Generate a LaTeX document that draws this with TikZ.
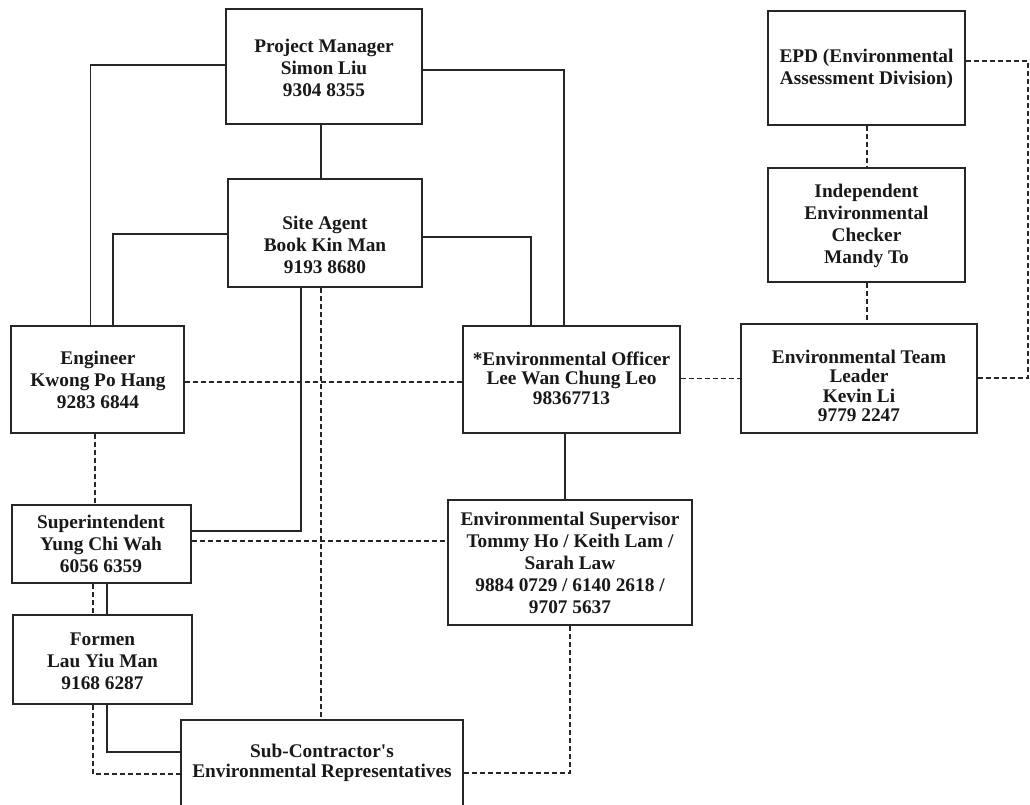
\documentclass[tikz,border=0pt]{standalone}
\usepackage{fontspec}
\setmainfont{Liberation Serif}[Ligatures=TeXOff]
\begin{document}
\begin{tikzpicture}[x=1pt,y=-1pt,
  box/.style={draw=black!85, line width=1.4pt, inner sep=0pt},
  lbl/.style={font=\bfseries\fontsize{19.3}{22}\selectfont, align=center, inner sep=0pt, text=black!90},
  lbltight/.style={lbl, font=\bfseries\fontsize{19.3}{19.5}\selectfont},
  lblsub/.style={lbl, font=\bfseries\fontsize{19.3}{20}\selectfont},
  conn/.style={line width=1.2pt, draw=black!85},
  dconn/.style={conn, dash pattern=on 5pt off 3pt}]
\useasboundingbox (0,0) rectangle (1030,805);
\clip (0,0) rectangle (1030,805);
\fill[white] (0,0) rectangle (1030,805);

% boxes
\node[box, minimum width=196pt, minimum height=115pt] (pm) at (324,66.5) {};
\node[box, minimum width=194pt, minimum height=108pt] (sa) at (325,233) {};
\node[box, minimum width=173pt, minimum height=107pt] (eng) at (97.5,379.5) {};
\node[box, minimum width=217pt, minimum height=107pt] (eo) at (571.5,379.5) {};
\node[box, minimum width=236pt, minimum height=109pt] (etl) at (859,378.5) {};
\node[box, minimum width=197pt, minimum height=114pt] (epd) at (866.5,68) {};
\node[box, minimum width=197pt, minimum height=114pt] (iec) at (866.5,225) {};
\node[box, minimum width=179pt, minimum height=78pt] (sup) at (101.5,544) {};
\node[box, minimum width=244pt, minimum height=125pt] (es) at (570,562.5) {};
\node[box, minimum width=179pt, minimum height=89pt] (formen) at (102.5,659.5) {};
\node[box, minimum width=282pt, minimum height=100pt] (sub) at (322,770) {};

% texts
\node[lbl] (pmt) at (324,68) {Project Manager\\Simon Liu\\9304 8355};
\node[lbl] (sat) at (325,245) {Site Agent\\Book Kin Man\\9193 8680};
\node[lbl] (engt) at (98,380) {Engineer\\Kwong Po Hang\\9283 6844};
\node[lbl] (supt) at (101,544) {Superintendent\\Yung Chi Wah\\6056 6359};
\node[lbl] (formt) at (102.5,661) {Formen\\Lau Yiu Man\\9168 6287};
\node[lbltight] (eot) at (571.5,378) {*Environmental Officer\\Lee Wan Chung Leo\\98367713};
\node[lbl] (est) at (570,563) {Environmental Supervisor\\Tommy Ho / Keith Lam /\\Sarah Law\\9884 0729 / 6140 2618 /\\9707 5637};
\node[lbltight] (etlt) at (859,386) {Environmental Team\\Leader\\Kevin Li\\9779 2247};
\node[lbl] (epdt) at (866.5,69) {EPD (Environmental\\Assessment Division)};
\node[lbl] (iect) at (866.5,226) {Independent\\Environmental\\Checker\\Mandy To};
\node[lblsub] (subt) at (322,763) {Sub-Contractor's\\Environmental Representatives};

\coordinate (rc) at (1028,61);

% solid connectors
\draw[conn] (pm.west |- 0,65) -| (90.5,0 |- eng.north);
\draw[conn] (sa.west |- 0,234) -| (113,0 |- eng.north);
\draw[conn] (pm.east |- 0,70) -| (564,0 |- eo.north);
\draw[conn] (sa.east |- 0,237) -| (531,0 |- eo.north);
\draw[conn] (pm.south -| 321,0) -- (sa.north -| 321,0);
\draw[conn] (sa.south -| 301,0) |- (sup.east |- 0,531);
\draw[conn] (eo.south -| 565,0) -- (es.north -| 565,0);
\draw[conn] (sup.south -| 107,0) -- (formen.north -| 107,0);
\draw[conn] (formen.south -| 107,0) |- (sub.west |- 0,752);

% dashed connectors
\draw[dconn] (sa.south -| 321,0) -- (sub.north -| 321,0);
\draw[dconn] (eng.east |- 0,382) -- (eo.west |- 0,382);
\draw[dconn] (eo.east |- 0,378.5) -- (etl.west |- 0,378.5);
\draw[dconn] (etl.east |- 0,378) -| (rc) -- (epd.east |- rc);
\draw[dconn] (epd.south -| 867,0) -- (iec.north -| 867,0);
\draw[dconn] (iec.south -| 867,0) -- (etl.north -| 867,0);
\draw[dconn] (eng.south -| 95,0) -- (sup.north -| 95,0);
\draw[dconn] (sup.east |- 0,541) -- (es.west |- 0,541);
\draw[dconn] (sup.south -| 93,0) -- (formen.north -| 93,0);
\draw[dconn] (formen.south -| 93,0) |- (sub.west |- 0,774);
\draw[dconn] (es.south -| 570,0) |- (sub.east |- 0,773);
\end{tikzpicture}
\end{document}
